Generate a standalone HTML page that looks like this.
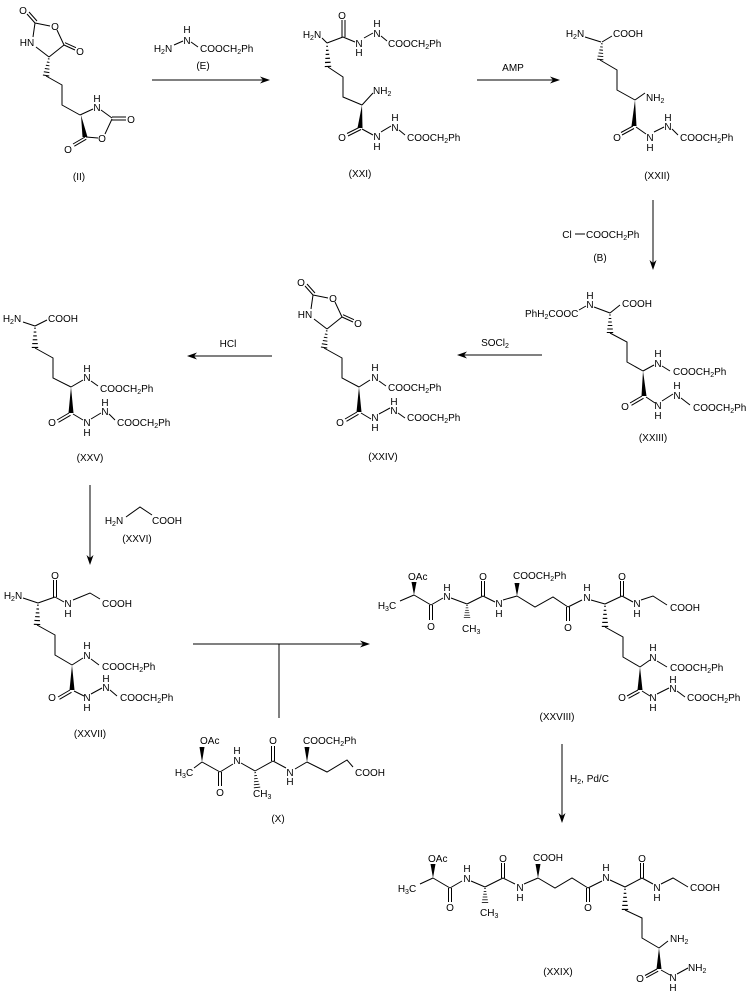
<!DOCTYPE html>
<html><head><meta charset="utf-8">
<style>
html,body{margin:0;padding:0;background:#fff;}
svg{display:block;}
text{font-family:"Liberation Sans",Arial,sans-serif;font-size:10px;fill:#000;}
.m{text-anchor:middle;}
.s{font-size:7px;}
</style></head><body>
<svg width="750" height="998" viewBox="0 0 750 998" xmlns="http://www.w3.org/2000/svg">
<defs>
<g id="h" stroke="#000" stroke-width="1">
<line x1="-0.8" y1="2" x2="0.8" y2="2"/>
<line x1="-1.3" y1="5.5" x2="1.3" y2="5.5"/>
<line x1="-1.8" y1="9" x2="1.8" y2="9"/>
<line x1="-2.3" y1="12.5" x2="2.3" y2="12.5"/>
<line x1="-2.8" y1="16" x2="2.8" y2="16"/>
<line x1="-3.2" y1="19.5" x2="3.2" y2="19.5"/>
</g>
</defs>
<rect width="750" height="998" fill="#fff"/>

<!-- ========== (II) ========== -->
<g stroke="#000" stroke-width="1" fill="none">
<path d="M35,23L27,14 M37,21L29,12 M35,23L50,26 M57,30L64,45 M64,45L75,50 M65,42.7L76,47.7 M64,45L49,57 M49,57L36,47 M33,37L35,23"/>
<path d="M46,76L62,85L62,105L80,115 M80,115L93,109 M101,110L112,118 M112,117L126,117 M112,120L126,120 M112,119L105,134 M98,138L86,137 M85,137L73,144 M86.3,139.2L74.3,146.2"/>
</g>
<use href="#h" transform="translate(49,57) rotate(9) scale(1,0.96)"/>
<polygon points="81,115 82.5,137 87.5,137" fill="#000"/>
<text x="23" y="14" class="m">O</text>
<text x="55" y="30" class="m">O</text>
<text x="80" y="55" class="m">O</text>
<text x="27" y="46" class="m">HN</text>
<text x="97" y="102" class="m">H</text>
<text x="97" y="111" class="m">N</text>
<text x="131" y="123" class="m">O</text>
<text x="102" y="142" class="m">O</text>
<text x="68" y="153" class="m">O</text>
<text x="79" y="180" class="m">(II)</text>

<!-- reagent E + arrow 1 -->
<g stroke="#000" stroke-width="1" fill="none">
<path d="M174,45L183,41 M191,42L198,47 M152,80L263,80"/>
</g>
<path d="M270,80l-10,-3.5l3,3.5l-3,3.5z" fill="#000"/>
<text x="163" y="52" class="m">H<tspan class="s" dy="2">2</tspan><tspan dy="-2">N</tspan></text>
<text x="187" y="33" class="m">H</text>
<text x="187" y="44" class="m">N</text>
<text x="200" y="52">COOCH<tspan class="s" dy="2">2</tspan><tspan dy="-2">Ph</tspan></text>
<text x="203" y="69" class="m">(E)</text>

<!-- ========== (XXI) ========== -->
<g stroke="#000" stroke-width="1" fill="none">
<path d="M342,37L342,20 M345,37L345,20 M322,38L327,43 M327,43L343,37 M343,37L355,42 M364,38L373,33 M381,36L387,41"/>
<path d="M328,67L343,77L343,97L362,105 M362,105L373,93 M360,127L347,133.5 M361,129.5L348,136 M362,129L373,135 M381,132L391,126 M399,130L405,135"/>
</g>
<use href="#h" transform="translate(327,44) rotate(-2.5) scale(1,1.15)"/>
<polygon points="362,105 357.5,128 362.5,128" fill="#000"/>
<text x="342" y="19" class="m">O</text>
<text x="312" y="38" class="m">H<tspan class="s" dy="2">2</tspan><tspan dy="-2">N</tspan></text>
<text x="359" y="47" class="m">N</text>
<text x="359" y="56" class="m">H</text>
<text x="377" y="37" class="m">N</text>
<text x="377" y="27" class="m">H</text>
<text x="388" y="47">COOCH<tspan class="s" dy="2">2</tspan><tspan dy="-2">Ph</tspan></text>
<text x="373" y="94">NH<tspan class="s" dy="2">2</tspan></text>
<text x="342" y="141" class="m">O</text>
<text x="377" y="140" class="m">N</text>
<text x="377" y="150" class="m">H</text>
<text x="395" y="131" class="m">N</text>
<text x="395" y="121" class="m">H</text>
<text x="407" y="141">COOCH<tspan class="s" dy="2">2</tspan><tspan dy="-2">Ph</tspan></text>
<text x="360" y="177" class="m">(XXI)</text>

<!-- AMP arrow -->
<path d="M477,80L553,80" stroke="#000" stroke-width="1"/>
<path d="M560,80l-10,-3.5l3,3.5l-3,3.5z" fill="#000"/>
<text x="513" y="71" class="m">AMP</text>

<!-- ========== (XXII) ========== -->
<g stroke="#000" stroke-width="1" fill="none">
<path d="M585,37L601,42 M602,42L612,36 M600,60L617,70L617,90L635,100 M635,100L645,93 M633,126L621,132.5 M634,128.5L622,135 M636,127L646,134 M654,132L664,127 M672,129L678,135"/>
</g>
<use href="#h" transform="translate(602,42) rotate(6) scale(1,0.9)"/>
<polygon points="635,100 631.5,126 636.5,126" fill="#000"/>
<text x="575" y="37" class="m">H<tspan class="s" dy="2">2</tspan><tspan dy="-2">N</tspan></text>
<text x="613" y="37">COOH</text>
<text x="646" y="101">NH<tspan class="s" dy="2">2</tspan></text>
<text x="617" y="141" class="m">O</text>
<text x="650" y="141" class="m">N</text>
<text x="650" y="151" class="m">H</text>
<text x="668" y="130" class="m">N</text>
<text x="668" y="121" class="m">H</text>
<text x="680" y="141">COOCH<tspan class="s" dy="2">2</tspan><tspan dy="-2">Ph</tspan></text>
<text x="657" y="179" class="m">(XXII)</text>

<!-- arrow 3 + reagent B -->
<path d="M653,200L653,263 M575,234L585,234" stroke="#000" stroke-width="1"/>
<path d="M653,270l-3.5,-10l3.5,3l3.5,-3z" fill="#000"/>
<text x="567" y="238" class="m">Cl</text>
<text x="586" y="238">COOCH<tspan class="s" dy="2">2</tspan><tspan dy="-2">Ph</tspan></text>
<text x="600" y="261" class="m">(B)</text>

<!-- ========== (XXIII) ========== -->
<g stroke="#000" stroke-width="1" fill="none">
<path d="M579,310L586,306 M594,307L610,313 M610,313L620,305 M610,333L627,342L627,362L643,371 M643,371L654,365 M662,366L670,371 M642,396L630,403 M643.5,398.3L631.5,405.3 M646,397L655,403 M662,401L673,394 M681,398L690,405"/>
</g>
<use href="#h" transform="translate(610,313)"/>
<polygon points="643,371 641.5,396 646.5,396" fill="#000"/>
<text x="590" y="299" class="m">H</text>
<text x="590" y="308" class="m">N</text>
<text x="525" y="317">PhH<tspan class="s" dy="2">2</tspan><tspan dy="-2">COOC</tspan></text>
<text x="622" y="307">COOH</text>
<text x="658" y="357" class="m">H</text>
<text x="658" y="367" class="m">N</text>
<text x="673" y="375">COOCH<tspan class="s" dy="2">2</tspan><tspan dy="-2">Ph</tspan></text>
<text x="625" y="410" class="m">O</text>
<text x="658" y="409" class="m">N</text>
<text x="658" y="419" class="m">H</text>
<text x="677" y="399" class="m">N</text>
<text x="677" y="389" class="m">H</text>
<text x="693" y="411">COOCH<tspan class="s" dy="2">2</tspan><tspan dy="-2">Ph</tspan></text>
<text x="653" y="441" class="m">(XXIII)</text>

<!-- SOCl2 arrow -->
<path d="M542,355L464,355" stroke="#000" stroke-width="1"/>
<path d="M457,355l10,-3.5l-3,3.5l3,3.5z" fill="#000"/>
<text x="495" y="346" class="m">SOCl<tspan class="s" dy="2">2</tspan></text>

<!-- ========== (XXIV) ========== -->
<g transform="translate(278,272)">
<g stroke="#000" stroke-width="1" fill="none">
<path d="M35,23L27,14 M37,21L29,12 M35,23L50,26 M57,30L64,45 M64,45L75,50 M65,42.7L76,47.7 M64,45L49,57 M49,57L36,47 M33,37L35,23"/>
</g>
<use href="#h" transform="translate(49,57) rotate(9) scale(1,0.96)"/>
<text x="23" y="14" class="m">O</text>
<text x="55" y="30" class="m">O</text>
<text x="80" y="55" class="m">O</text>
<text x="27" y="46" class="m">HN</text>
</g>
<g stroke="#000" stroke-width="1" fill="none">
<path d="M324,348L342,358L342,378L359,387 M359,387L370,380 M379,381L386,386 M357,412L345,419 M358.5,414.3L346.5,421.3 M361,413L371,419 M379,414L390,408 M398,413L405,418"/>
</g>
<polygon points="359,387 356.5,412 361.5,412" fill="#000"/>
<text x="375" y="371" class="m">H</text>
<text x="375" y="381" class="m">N</text>
<text x="388" y="391">COOCH<tspan class="s" dy="2">2</tspan><tspan dy="-2">Ph</tspan></text>
<text x="340" y="426" class="m">O</text>
<text x="375" y="421" class="m">N</text>
<text x="375" y="431" class="m">H</text>
<text x="394" y="414" class="m">N</text>
<text x="394" y="405" class="m">H</text>
<text x="407" y="421">COOCH<tspan class="s" dy="2">2</tspan><tspan dy="-2">Ph</tspan></text>
<text x="383" y="460" class="m">(XXIV)</text>

<!-- HCl arrow -->
<path d="M272,356L194,356" stroke="#000" stroke-width="1"/>
<path d="M187,356l10,-3.5l-3,3.5l3,3.5z" fill="#000"/>
<text x="228" y="347" class="m">HCl</text>

<!-- ========== (XXV) ========== -->
<g stroke="#000" stroke-width="1" fill="none">
<path d="M23,322L35,326 M35,326L47,320 M35,348L53,358L53,378L71,387 M71,387L83,380 M91,381L98,386 M69,413L57,420 M70.5,415.3L58.5,422.3 M73,414L83,420 M91,419L101,413 M109,414L115,420"/>
</g>
<use href="#h" transform="translate(35,326) scale(1,1.1)"/>
<polygon points="71,387 68.5,413 73.5,413" fill="#000"/>
<text x="12" y="322" class="m">H<tspan class="s" dy="2">2</tspan><tspan dy="-2">N</tspan></text>
<text x="48" y="322">COOH</text>
<text x="87" y="372" class="m">H</text>
<text x="87" y="381" class="m">N</text>
<text x="100" y="392">COOCH<tspan class="s" dy="2">2</tspan><tspan dy="-2">Ph</tspan></text>
<text x="52" y="426" class="m">O</text>
<text x="87" y="426" class="m">N</text>
<text x="87" y="436" class="m">H</text>
<text x="105" y="415" class="m">N</text>
<text x="105" y="406" class="m">H</text>
<text x="117" y="426">COOCH<tspan class="s" dy="2">2</tspan><tspan dy="-2">Ph</tspan></text>
<text x="90" y="461" class="m">(XXV)</text>

<!-- arrow down + XXVI -->
<path d="M90,485L90,558 M126,517L140,507L152,515" stroke="#000" stroke-width="1" fill="none"/>
<path d="M90,565l-3.5,-10l3.5,3l3.5,-3z" fill="#000"/>
<text x="114" y="524" class="m">H<tspan class="s" dy="2">2</tspan><tspan dy="-2">N</tspan></text>
<text x="152" y="524">COOH</text>
<text x="137" y="542" class="m">(XXVI)</text>

<!-- ========== (XXVII) ========== -->
<g stroke="#000" stroke-width="1" fill="none">
<path d="M53.5,597L53.5,580 M56.5,597L56.5,580 M23,598L38,603 M38,603L55,597 M55,597L64,602 M73,600L90,593L100,599 M37,625L55,635L55,655L72,665 M72,665L83,658 M91,659L99,665 M70,690L58,697 M71.5,692.3L59.5,699.3 M74,691L84,696 M91,694L102,688 M110,690L117,696"/>
</g>
<use href="#h" transform="translate(38,603) rotate(2.6) scale(1,1.1)"/>
<polygon points="72,665 69.5,690 74.5,690" fill="#000"/>
<text x="55" y="579" class="m">O</text>
<text x="13" y="599" class="m">H<tspan class="s" dy="2">2</tspan><tspan dy="-2">N</tspan></text>
<text x="68" y="607" class="m">N</text>
<text x="68" y="617" class="m">H</text>
<text x="102" y="607">COOH</text>
<text x="87" y="649" class="m">H</text>
<text x="87" y="659" class="m">N</text>
<text x="102" y="670">COOCH<tspan class="s" dy="2">2</tspan><tspan dy="-2">Ph</tspan></text>
<text x="52" y="701" class="m">O</text>
<text x="87" y="701" class="m">N</text>
<text x="87" y="711" class="m">H</text>
<text x="106" y="691" class="m">N</text>
<text x="106" y="682" class="m">H</text>
<text x="120" y="701">COOCH<tspan class="s" dy="2">2</tspan><tspan dy="-2">Ph</tspan></text>
<text x="90" y="737" class="m">(XXVII)</text>

<!-- T arrow -->
<path d="M193,644L363,644 M279,644L279,718" stroke="#000" stroke-width="1"/>
<path d="M370,644l-10,-3.5l3,3.5l-3,3.5z" fill="#000"/>

<!-- ========== (X) ========== -->
<g stroke="#000" stroke-width="1" fill="none">
<path d="M194,768L202,762 M202,762L220,772 M218.5,772L218.5,786 M221.5,772L221.5,786 M220,772L233,764 M241,763L255,771 M255,771L273,761 M271.5,761L271.5,746 M274.5,761L274.5,746 M273,761L286,768 M295,769L307,762 M307,762L327,772L347,760L353,767"/>
</g>
<use href="#h" transform="translate(255,771) rotate(-7) scale(1,0.85)"/>
<polygon points="202,762 199.5,747 204.5,747" fill="#000"/>
<polygon points="307,762 304.5,747 309.5,747" fill="#000"/>
<text x="200" y="744">OAc</text>
<text x="184" y="776" class="m">H<tspan class="s" dy="2">3</tspan><tspan dy="-2">C</tspan></text>
<text x="220" y="796" class="m">O</text>
<text x="237" y="754" class="m">H</text>
<text x="237" y="764" class="m">N</text>
<text x="253" y="797">CH<tspan class="s" dy="2">3</tspan></text>
<text x="273" y="744" class="m">O</text>
<text x="290" y="776" class="m">N</text>
<text x="290" y="785" class="m">H</text>
<text x="303" y="744">COOCH<tspan class="s" dy="2">2</tspan><tspan dy="-2">Ph</tspan></text>
<text x="355" y="776">COOH</text>
<text x="278" y="822" class="m">(X)</text>

<!-- ========== (XXVIII) ========== -->
<g stroke="#000" stroke-width="1" fill="none">
<path d="M400,601L414,595 M414,595L431,605 M429.5,605L429.5,620 M432.5,605L432.5,620 M431,605L443,598 M451,598L467,604 M467,604L483,596 M481.5,596L481.5,581 M484.5,596L484.5,581 M483,596L495,602 M503,600L517,596 M517,596L535,607L553,597L568,607 M566.5,607L566.5,621 M569.5,607L569.5,621 M568,607L582,600 M591,600L605,604 M605,604L622,596 M620.5,596L620.5,581 M623.5,596L623.5,581 M622,596L633,602 M641,600L653,596L667,605"/>
<path d="M605,627L623,637L623,657L640,667 M640,667L650,660 M657,661L667,667 M638,690L627,696 M639.5,692.3L628.5,698.3 M642,691L650,696 M657,694L669,688 M677,691L685,697"/>
</g>
<use href="#h" transform="translate(467,604) scale(1,0.7)"/>
<use href="#h" transform="translate(605,604) scale(1,1.15)"/>
<polygon points="414,595 411.5,582 416.5,582" fill="#000"/>
<polygon points="517,596 514.5,583 519.5,583" fill="#000"/>
<polygon points="640,667 637.5,690 642.5,690" fill="#000"/>
<text x="408" y="580">OAc</text>
<text x="387" y="609" class="m">H<tspan class="s" dy="2">3</tspan><tspan dy="-2">C</tspan></text>
<text x="431" y="630" class="m">O</text>
<text x="447" y="591" class="m">H</text>
<text x="447" y="600" class="m">N</text>
<text x="462" y="632">CH<tspan class="s" dy="2">3</tspan></text>
<text x="483" y="580" class="m">O</text>
<text x="499" y="607" class="m">N</text>
<text x="499" y="617" class="m">H</text>
<text x="513" y="579">COOCH<tspan class="s" dy="2">2</tspan><tspan dy="-2">Ph</tspan></text>
<text x="568" y="631" class="m">O</text>
<text x="587" y="591" class="m">H</text>
<text x="587" y="601" class="m">N</text>
<text x="622" y="580" class="m">O</text>
<text x="637" y="607" class="m">N</text>
<text x="637" y="617" class="m">H</text>
<text x="670" y="611">COOH</text>
<text x="653" y="651" class="m">H</text>
<text x="653" y="661" class="m">N</text>
<text x="670" y="671">COOCH<tspan class="s" dy="2">2</tspan><tspan dy="-2">Ph</tspan></text>
<text x="622" y="701" class="m">O</text>
<text x="653" y="701" class="m">N</text>
<text x="653" y="711" class="m">H</text>
<text x="673" y="692" class="m">N</text>
<text x="673" y="683" class="m">H</text>
<text x="687" y="701">COOCH<tspan class="s" dy="2">2</tspan><tspan dy="-2">Ph</tspan></text>
<text x="557" y="720" class="m">(XXVIII)</text>

<!-- H2 Pd/C arrow -->
<path d="M562,744L562,816" stroke="#000" stroke-width="1"/>
<path d="M562,823l-3.5,-10l3.5,3l3.5,-3z" fill="#000"/>
<text x="570" y="782">H<tspan class="s" dy="2">2</tspan><tspan dy="-2">, Pd/C</tspan></text>

<!-- ========== (XXIX) ========== -->
<g stroke="#000" stroke-width="1" fill="none">
<path d="M420,884L433,878 M433,878L450,888 M448.5,888L448.5,902 M451.5,888L451.5,902 M450,888L462,881 M471,881L485,887 M485,887L503,878 M501.5,878L501.5,863 M504.5,878L504.5,863 M503,878L515,884 M524,884L538,878 M538,878L555,888L572,878L588,888 M586.5,888L586.5,902 M589.5,888L589.5,902 M588,888L602,881 M610,880L625,887 M625,887L642,878 M640.5,878L640.5,863 M643.5,878L643.5,863 M642,878L653,884 M661,884L673,878L688,887"/>
<path d="M625,910L642,918L642,938L659,948 M659,948L668,941 M657,969L645,975.5 M658.2,971.2L646.2,977.7 M661,970L670,975 M677,974L688,968"/>
</g>
<use href="#h" transform="translate(485,887) scale(1,0.8)"/>
<use href="#h" transform="translate(625,887) scale(1,1.15)"/>
<polygon points="433,878 430.5,864 435.5,864" fill="#000"/>
<polygon points="538,878 535.5,864 540.5,864" fill="#000"/>
<polygon points="659,948 656.5,969 661.5,969" fill="#000"/>
<text x="428" y="862">OAc</text>
<text x="407" y="892" class="m">H<tspan class="s" dy="2">3</tspan><tspan dy="-2">C</tspan></text>
<text x="450" y="911" class="m">O</text>
<text x="467" y="872" class="m">H</text>
<text x="467" y="882" class="m">N</text>
<text x="480" y="916">CH<tspan class="s" dy="2">3</tspan></text>
<text x="503" y="862" class="m">O</text>
<text x="520" y="891" class="m">N</text>
<text x="520" y="901" class="m">H</text>
<text x="533" y="861">COOH</text>
<text x="588" y="911" class="m">O</text>
<text x="606" y="871" class="m">H</text>
<text x="606" y="881" class="m">N</text>
<text x="642" y="862" class="m">O</text>
<text x="657" y="891" class="m">N</text>
<text x="657" y="901" class="m">H</text>
<text x="690" y="891">COOH</text>
<text x="670" y="942">NH<tspan class="s" dy="2">2</tspan></text>
<text x="640" y="982" class="m">O</text>
<text x="673" y="981" class="m">N</text>
<text x="673" y="991" class="m">H</text>
<text x="688" y="971">NH<tspan class="s" dy="2">2</tspan></text>
<text x="558" y="975" class="m">(XXIX)</text>
</svg>
</body></html>
